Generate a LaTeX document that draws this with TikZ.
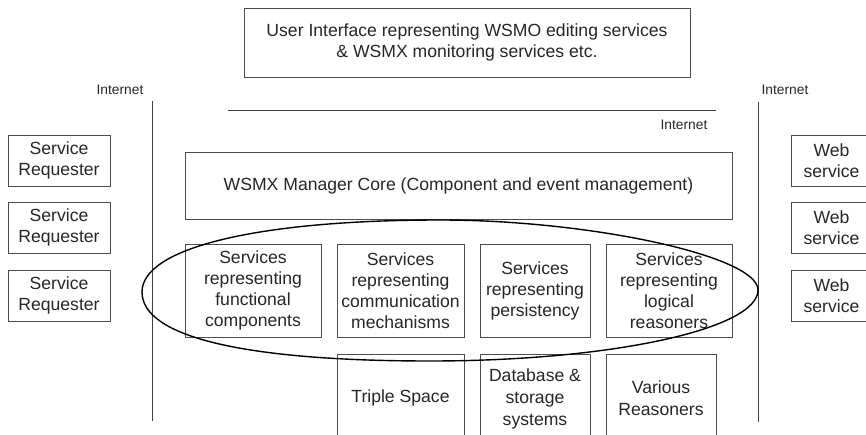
\documentclass[tikz,border=0pt]{standalone}
\usepackage{fontspec}
\setmainfont{Liberation Sans}
\usetikzlibrary{positioning}
\begin{document}
\begin{tikzpicture}[x=1pt,y=-1pt,
  box/.style={draw=black!70, line width=0.9pt, inner sep=0pt, align=center,
    text=black!85, font=\fontsize{17.6}{21}\selectfont},
  txt/.style={text=black!85, align=center, inner sep=0pt, font=\fontsize{17.6}{22}\selectfont},
  lbl/.style={text=black!85, inner sep=0pt, font=\fontsize{13.8}{16}\selectfont},
  wire/.style={draw=black!75, line width=0.9pt},
  loop/.style={draw=black, line width=1.4pt}]
\useasboundingbox (0,0) rectangle (866,435);
\clip (0,0) rectangle (866,435);

% top user interface box
\node[box, minimum width=446pt, minimum height=69pt] (ui) at (467,42.5)
  {User Interface representing WSMO editing services\\ \& WSMX monitoring services etc.};

% internet boundaries
\node[lbl] (inetL) at (120,90) {Internet};
\node[lbl] (inetR) at (785,90) {Internet};
\node[lbl] (inetT) at (684,125) {Internet};
\coordinate (lTop) at (152,101);
\coordinate (lBot) at (152,421);
\coordinate (rTop) at (758,102);
\coordinate (rBot) at (758,422);
\coordinate (hL) at (228,110);
\coordinate (hR) at (716,110);
\draw[wire] (lTop) -- (lBot);
\draw[wire] (rTop) -- (rBot);
\draw[wire] (hL) -- (hR);

% requesters and web services
\foreach \i/\y in {1/160.5, 2/227.5, 3/295.5} {
  \node[box, minimum width=102pt, minimum height=51pt] (req\i) at (59,\y) {Service\\Requester};
  \node[box, minimum width=81pt, minimum height=51pt] (ws\i) at (831.5,\y) {Web\\service};
}

% manager core
\node[box, minimum width=547pt, minimum height=67pt] (core) at (458.5,185.5)
  {WSMX Manager Core (Component and event management)};

% service layer
\node[box, minimum width=136pt, minimum height=93pt] (s1) at (253,290.5)
  {Services\\representing\\functional\\components};
\node[box, minimum width=127pt, minimum height=93pt] (s2) at (400.5,290.5)
  {Services\\representing\\communication\\mechanisms};
\node[box, minimum width=110pt, minimum height=93pt] (s3) at (535,290.5)
  {Services\\representing\\persistency};
\node[box, minimum width=126pt, minimum height=93pt] (s4) at (669,290.5)
  {Services\\representing\\logical\\reasoners};

% back-end systems (boxes run past the lower edge)
\node[box, minimum width=127pt, minimum height=100pt] (b1) at (400.5,404) {};
\node[box, minimum width=110pt, minimum height=100pt] (b2) at (535,404) {};
\node[box, minimum width=110pt, minimum height=100pt] (b3) at (661,404) {};
\node[txt] (b1t) at (400.5,398) {Triple Space};
\node[txt] (b2t) at (535,398.5) {Database \&\\storage\\systems};
\node[txt] (b3t) at (661,398) {Various\\Reasoners};

% hand-drawn loop grouping the service layer (fuller on the left)
\coordinate (eL) at (142,292);
\coordinate (eT) at (440,220);
\coordinate (eR) at (758,290);
\coordinate (eB) at (430,361);
\draw[loop] (eL) .. controls (142,248) and (257,220) .. (eT)
  .. controls (590,220) and (758,256) .. (eR)
  .. controls (758,329) and (611,361) .. (eB)
  .. controls (245,361) and (142,337) .. (eL) -- cycle;
\end{tikzpicture}
\end{document}
